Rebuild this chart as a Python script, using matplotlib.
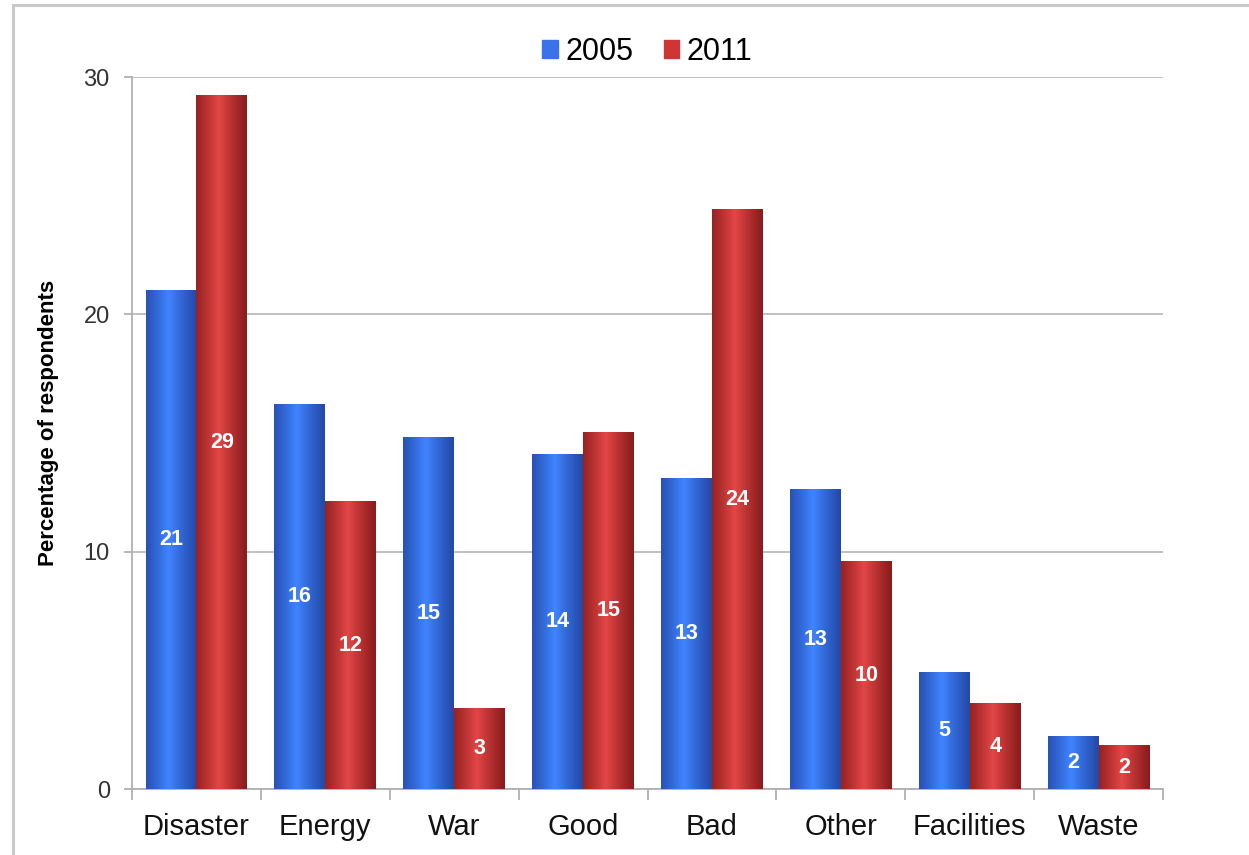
import numpy as np
import matplotlib
matplotlib.use("Agg")
import matplotlib.pyplot as plt
from matplotlib.colors import to_rgb
from matplotlib.patches import Rectangle

categories = ["Disaster", "Energy", "War", "Good", "Bad", "Other", "Facilities", "Waste"]
values_2005 = [21.0, 16.2, 14.8, 14.1, 13.1, 12.6, 4.9, 2.2]
values_2011 = [29.2, 12.1, 3.4, 15.0, 24.4, 9.6, 3.6, 1.85]
series_labels = ["2005", "2011"]
y_ticks = [0, 10, 20, 30]

plt.rcParams["font.family"] = ["Liberation Sans", "DejaVu Sans"]

fig = plt.figure(figsize=(12.49, 8.55), dpi=100)
ax = fig.add_axes([132 / 1249, 1 - 789 / 855, (1163 - 132) / 1249, (789 - 77) / 855])

# light frame around the figure
fig.patches.append(Rectangle((13 / 1249, -0.05), 1.2, 1 - 5 / 855 + 0.05,
                             transform=fig.transFigure, fill=False,
                             edgecolor="#c9c9c9", linewidth=2.2, zorder=0))

x = np.arange(len(categories))
width = 0.395
blue_dark, blue_light = to_rgb("#2449a8"), to_rgb("#3f84ff")
red_dark, red_light = to_rgb("#8a1c1c"), to_rgb("#e34646")


def shaded(bars, dark, light):
    t = np.linspace(0, 1, 64)
    prof = np.clip(1 - np.abs(t - 0.45) / 0.55, 0, 1) ** 1.1
    dark = np.array(dark)
    light = np.array(light)
    row = dark[None, :] + (light - dark)[None, :] * prof[:, None]
    img = row[None, :, :]
    for b in bars:
        x0, y0 = b.get_x(), b.get_y()
        w, h = b.get_width(), b.get_height()
        ax.imshow(img, extent=(x0, x0 + w, y0, y0 + h), aspect="auto",
                  interpolation="bilinear", zorder=3)
        b.set_visible(False)


bars05 = ax.bar(x - width / 2, values_2005, width, color="#2f66e0", label=series_labels[0], zorder=3)
bars11 = ax.bar(x + width / 2, values_2011, width, color="#d03535", label=series_labels[1], zorder=3)
shaded(bars05, blue_dark, blue_light)
shaded(bars11, red_dark, red_light)

for bars in (bars05, bars11):
    for b in bars:
        h = b.get_height()
        ax.text(b.get_x() + b.get_width() / 2, h / 2, f"{round(h):d}",
                ha="center", va="center", color="white", fontsize=15.5,
                fontweight="bold", zorder=5)

ax.set_xlim(-0.5, len(categories) - 0.5)
ax.set_ylim(0, 30)
ax.set_yticks(y_ticks)
ax.yaxis.grid(True, color="#b5b5b5", linewidth=1.2, zorder=0)
ax.set_axisbelow(True)

for side in ("top", "right"):
    ax.spines[side].set_visible(False)
for side in ("left", "bottom"):
    ax.spines[side].set_color("#b0b0b0")
    ax.spines[side].set_linewidth(1.3)

ax.set_xticks(x)
ax.set_xticklabels(categories, fontsize=21, color="#111111")
ax.tick_params(axis="x", length=0, pad=17)
ax.set_xticks(np.arange(len(categories) + 1) - 0.5, minor=True)
ax.tick_params(axis="x", which="minor", length=8, color="#b0b0b0", width=1.3)
ax.tick_params(axis="y", length=6, color="#b0b0b0", width=1.3, labelsize=17,
               labelcolor="#333333", pad=10)

ax.set_ylabel("Percentage of respondents", fontsize=16, fontweight="bold")
ax.yaxis.set_label_coords(-0.071, 0.514)

handles = [Rectangle((0, 0), 1, 1, color="#3a72ea"), Rectangle((0, 0), 1, 1, color="#cf3535")]
leg = ax.legend(handles, series_labels, loc="lower center", bbox_to_anchor=(0.5, 0.997),
                ncol=2, frameon=False, fontsize=22, handlelength=0.5, handleheight=0.5,
                handletextpad=0.25, columnspacing=1.0, borderaxespad=0)

fig.savefig("out.png", dpi=100, facecolor="white")
